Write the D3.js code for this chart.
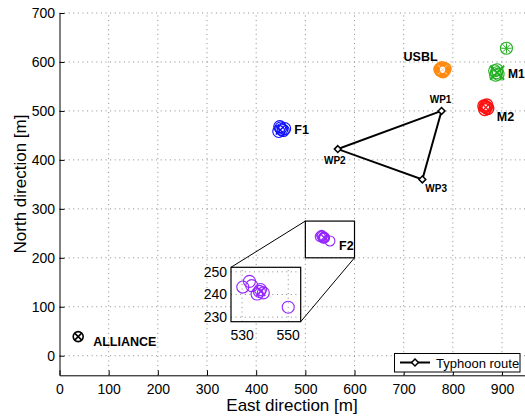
<!DOCTYPE html>
<html>
<head>
<meta charset="utf-8">
<script src="https://cdn.jsdelivr.net/npm/d3@7"></script>
<style>
  html, body { margin: 0; padding: 0; background: #fff; }
  svg { display: block; font-family: "Liberation Sans", Arial, Helvetica, sans-serif; }
</style>
</head>
<body>
<svg id="chart" width="525" height="416"></svg>
<script>
// ---- data (East / North positions in metres) ----
const xTicks = [0, 100, 200, 300, 400, 500, 600, 700, 800, 900];
const yTicks = [0, 100, 200, 300, 400, 500, 600, 700];

const routeNames = ["WP1", "WP2", "WP3"];
const routeEast  = [777, 566, 738];
const routeNorth = [500, 422, 360];

const usblPts = [[774, 585], [778, 588], [782, 583], [780, 580], [776, 582], [784, 586], [779, 584]];
const usblMean = [779, 584];

const m1Pts = [[885, 582], [889, 578], [892, 575], [887, 573], [890, 584]];
const m1Mean = [890, 578];
const m1Ref = [909, 628];

const m2Pts = [[863, 510], [868, 507], [871, 505], [865, 503], [869, 512], [866, 509]];
const m2Mean = [867, 507];

const f1Pts = [[448, 468], [452, 462], [455, 460], [446, 458], [458, 464], [450, 465]];
const f1Mean = [449, 461];

const f2Pts = [[530.3, 243.3], [533.2, 245.8], [534.2, 243.9], [537.5, 241.4], [539.2, 240.7], [538, 242.2], [536.5, 240.2], [550, 234.4]];
const f2Mean = [538.1, 241.4];

const alliance = [38, 39];

const zoomEast = [500, 600];
const zoomNorth = [200, 275];
const insetXTicks = [530, 550];
const insetYTicks = [230, 240, 250];

// ---- layout ----
const svg = d3.select("#chart");
const x = d3.scaleLinear().domain([0, 950]).range([59.5, 526.6]);
const y = d3.scaleLinear().domain([-40, 700]).range([375.3, 13]);

const colors = { usbl: "#ff8a10", m1: "#20b020", m2: "#ff1010", f1: "#1010ff", f2: "#9326ff", black: "#000" };
const gridStyle = { stroke: "#8a8a8a", dash: "1,3.6", width: 1 };

// grid
const grid = svg.append("g");
grid.selectAll(".gx").data(xTicks.filter(d => d > 0)).join("line")
  .attr("x1", d => x(d)).attr("x2", d => x(d))
  .attr("y1", y.range()[0]).attr("y2", y.range()[1])
  .attr("stroke", gridStyle.stroke).attr("stroke-dasharray", gridStyle.dash).attr("stroke-width", gridStyle.width);
grid.selectAll(".gy").data(yTicks).join("line")
  .attr("x1", x.range()[0]).attr("x2", x.range()[1])
  .attr("y1", d => y(d)).attr("y2", d => y(d))
  .attr("stroke", gridStyle.stroke).attr("stroke-dasharray", gridStyle.dash).attr("stroke-width", gridStyle.width);

// axes (ticks pointing inward)
const xAxis = svg.append("g").attr("transform", `translate(0,${y(-40)})`)
  .call(d3.axisBottom(x).tickValues(xTicks).tickSizeInner(-5).tickSizeOuter(0).tickPadding(9));
const yAxis = svg.append("g").attr("transform", `translate(${x(0)},0)`)
  .call(d3.axisLeft(y).tickValues(yTicks).tickSizeInner(-5).tickSizeOuter(0).tickPadding(4.5));
[xAxis, yAxis].forEach(a => {
  a.selectAll("text").attr("font-size", 14).attr("fill", "#000")
   .attr("font-family", "Liberation Sans, Arial, sans-serif");
  a.select(".domain").attr("stroke", "#000").attr("stroke-width", 1);
  a.selectAll(".tick line").attr("stroke", "#000");
});

svg.append("text").attr("x", 292).attr("y", 411).attr("text-anchor", "middle")
  .attr("font-size", 17).text("East direction [m]");
svg.append("text").attr("transform", "translate(26,184) rotate(-90)").attr("text-anchor", "middle")
  .attr("font-size", 17).text("North direction [m]");

// ---- marker helpers ----
function circles(g, pts, sx, sy, color, r, w) {
  g.selectAll(null).data(pts).join("circle")
    .attr("cx", d => sx(d[0])).attr("cy", d => sy(d[1])).attr("r", r)
    .attr("fill", "none").attr("stroke", color).attr("stroke-width", w);
}
function cross(g, p, sx, sy, color, s, w) {
  const cx = sx(p[0]), cy = sy(p[1]);
  const path = d3.path();
  path.moveTo(cx - s, cy - s); path.lineTo(cx + s, cy + s);
  path.moveTo(cx - s, cy + s); path.lineTo(cx + s, cy - s);
  g.append("path").attr("d", path.toString()).attr("stroke", color).attr("stroke-width", w).attr("fill", "none");
}
function star(g, p, sx, sy, color, s, w) {
  const cx = sx(p[0]), cy = sy(p[1]);
  const path = d3.path();
  for (let k = 0; k < 4; k++) {
    const a = k * Math.PI / 4;
    path.moveTo(cx - s * Math.cos(a), cy - s * Math.sin(a));
    path.lineTo(cx + s * Math.cos(a), cy + s * Math.sin(a));
  }
  g.append("path").attr("d", path.toString()).attr("stroke", color).attr("stroke-width", w).attr("fill", "none");
}
function label(g, p, text, dx, dy, size, anchor) {
  g.append("text").attr("x", x(p[0]) + dx).attr("y", y(p[1]) + dy)
    .attr("text-anchor", anchor || "start").attr("font-weight", "bold").attr("font-size", size).text(text);
}

const marks = svg.append("g");

// USBL
circles(marks, usblPts, x, y, colors.usbl, 6, 1.7);
cross(marks, usblMean, x, y, "#ffd2a6", 4.5, 1);
label(marks, usblMean, "USBL", -39, -9, 12.5);

// M1 and its reference point
circles(marks, m1Pts, x, y, colors.m1, 6, 1.1);
cross(marks, m1Mean, x, y, colors.m1, 7, 2);
circles(marks, [m1Ref], x, y, colors.m1, 6, 1.1);
star(marks, m1Ref, x, y, colors.m1, 5, 1);
label(marks, m1Mean, "M1", 11, 5, 12);

// M2
circles(marks, m2Pts, x, y, colors.m2, 6, 1.4);
cross(marks, m2Mean, x, y, colors.m2, 4, 1.2);
label(marks, m2Mean, "M2", 11, 14, 12.5);

// F1
circles(marks, f1Pts, x, y, colors.f1, 6, 1.1);
cross(marks, f1Mean, x, y, colors.f1, 4.5, 1.6);
label(marks, f1Mean, "F1", 14, 4, 12.5);

// F2
circles(marks, f2Pts, x, y, colors.f2, 5, 1.1);
cross(marks, f2Mean, x, y, colors.f2, 4, 1.4);
label(marks, f2Mean, "F2", 15, 12, 12.5);

// ALLIANCE
circles(marks, [alliance], x, y, colors.black, 5, 1.6);
cross(marks, alliance, x, y, colors.black, 3.5, 1.6);
label(marks, alliance, "ALLIANCE", 15, 9, 12.5);

// ---- Typhoon route (closed triangle through the waypoints) ----
const route = routeNames.map((n, i) => ({ name: n, e: routeEast[i], n2: routeNorth[i] }));
marks.append("path").attr("d", d3.line().x(d => x(d.e)).y(d => y(d.n2)).curve(d3.curveLinearClosed)(route))
  .attr("fill", "none").attr("stroke", "#000").attr("stroke-width", 2);
const diamond = d3.symbol().type(d3.symbolDiamond2).size(30);
marks.selectAll(".wp").data(route).join("path")
  .attr("transform", d => `translate(${x(d.e)},${y(d.n2)})`).attr("d", diamond)
  .attr("fill", "#fff").attr("stroke", "#000").attr("stroke-width", 1.5);
const wpOffsets = { WP1: [-1, -8, "middle"], WP2: [-3, 15, "middle"], WP3: [3, 13, "start"] };
route.forEach(d => {
  const o = wpOffsets[d.name];
  marks.append("text").attr("x", x(d.e) + o[0]).attr("y", y(d.n2) + o[1]).attr("text-anchor", o[2])
    .attr("font-weight", "bold").attr("font-size", 10).text(d.name);
});

// ---- zoom box and inset of F2 ----
const ix = d3.scaleLinear().domain([525.2, 555.4]).range([231, 300.7]);
const iy = d3.scaleLinear().domain([228, 252]).range([321.7, 267.3]);
const zx0 = x(zoomEast[0]), zx1 = x(zoomEast[1]), zy0 = y(zoomNorth[1]), zy1 = y(zoomNorth[0]);
const inset = svg.append("g");
inset.append("line").attr("x1", zx0).attr("y1", zy0).attr("x2", ix.range()[0]).attr("y2", iy.range()[1])
  .attr("stroke", "#000").attr("stroke-width", 1);
inset.append("line").attr("x1", zx1).attr("y1", zy1).attr("x2", ix.range()[1]).attr("y2", iy.range()[0])
  .attr("stroke", "#000").attr("stroke-width", 1);
inset.append("rect").attr("x", zx0).attr("y", zy0).attr("width", zx1 - zx0).attr("height", zy1 - zy0)
  .attr("fill", "none").attr("stroke", "#000").attr("stroke-width", 1.2);

inset.append("rect").attr("x", ix.range()[0]).attr("y", iy.range()[1])
  .attr("width", ix.range()[1] - ix.range()[0]).attr("height", iy.range()[0] - iy.range()[1]).attr("fill", "#fff");
inset.selectAll(".igx").data(insetXTicks).join("line")
  .attr("x1", d => ix(d)).attr("x2", d => ix(d)).attr("y1", iy.range()[0]).attr("y2", iy.range()[1])
  .attr("stroke", gridStyle.stroke).attr("stroke-dasharray", gridStyle.dash);
inset.selectAll(".igy").data(insetYTicks).join("line")
  .attr("x1", ix.range()[0]).attr("x2", ix.range()[1]).attr("y1", d => iy(d)).attr("y2", d => iy(d))
  .attr("stroke", gridStyle.stroke).attr("stroke-dasharray", gridStyle.dash);
circles(inset, f2Pts, ix, iy, colors.f2, 6, 1.1);
cross(inset, f2Mean, ix, iy, colors.f2, 4.5, 1.6);
inset.append("rect").attr("x", ix.range()[0]).attr("y", iy.range()[1])
  .attr("width", ix.range()[1] - ix.range()[0]).attr("height", iy.range()[0] - iy.range()[1])
  .attr("fill", "none").attr("stroke", "#000").attr("stroke-width", 1.2);
inset.selectAll(".itx").data(insetXTicks).join("text")
  .attr("x", d => ix(d)).attr("y", 340).attr("text-anchor", "middle").attr("font-size", 14).text(d => d);
inset.selectAll(".ity").data(insetYTicks).join("text")
  .attr("x", 227).attr("y", d => iy(d)).attr("dy", "0.35em").attr("text-anchor", "end").attr("font-size", 14).text(d => d);

// ---- legend ----
const legend = svg.append("g");
legend.append("rect").attr("x", 394.5).attr("y", 353.5).attr("width", 125.5).attr("height", 18.5)
  .attr("fill", "#fff").attr("stroke", "#000").attr("stroke-width", 1);
legend.append("line").attr("x1", 400).attr("x2", 430).attr("y1", 362.5).attr("y2", 362.5)
  .attr("stroke", "#000").attr("stroke-width", 2);
legend.append("path").attr("transform", "translate(415,362.5)").attr("d", diamond)
  .attr("fill", "#fff").attr("stroke", "#000").attr("stroke-width", 1.5);
legend.append("text").attr("x", 436).attr("y", 367.5).attr("font-size", 13).text("Typhoon route");
</script>
</body>
</html>
